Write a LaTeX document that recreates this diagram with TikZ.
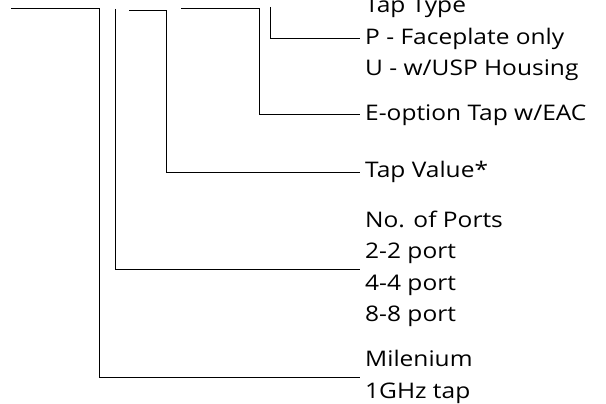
\documentclass[tikz,border=0pt]{standalone}
\usepackage{fontspec}
\setmainfont{Open Sans}[FakeStretch=1.14]
\usetikzlibrary{positioning}
\tikzset{
  key label/.style={
    anchor=west, align=left, inner xsep=5pt, inner ysep=0pt,
    font=\fontsize{21.5}{31.5}\selectfont
  },
  key lead/.style={
    draw=black, line width=1pt
  }
}

\begin{document}
\begin{tikzpicture}[x=1pt, y=-1pt]
  \useasboundingbox (0,0) rectangle (606,404);

  % legend texts
  \node (type)  [key label] at (360,39)  {Tap Type\\P - Faceplate only\\U - w/USP Housing};
  \node (eopt)  [key label] at (360,115) {E-option Tap w/EAC};
  \node (value) [key label] at (360,172) {Tap Value*};
  \node (ports) [key label] at (360,269) {No. of Ports\\2-2 port\\4-4 port\\8-8 port};
  \node (mil)   [key label] at (360,377) {Milenium\\1GHz tap};

  % lead starts and corners
  \coordinate (type start)  at (270,7);
  \coordinate (eopt start)  at (181,9);
  \coordinate (eopt bend)   at (259,9);
  \coordinate (value start) at (129,11);
  \coordinate (value bend)  at (166,11);
  \coordinate (ports start) at (115,9);
  \coordinate (mil start)   at (11,9);
  \coordinate (mil bend)    at (99,9);

  \draw [key lead] (type start) |- (type.west);
  \draw [key lead] (eopt start) -- (eopt bend) |- (eopt.west);
  \draw [key lead] (value start) -- (value bend) |- (value.west);
  \draw [key lead] (ports start) |- (ports.west);
  \draw [key lead] (mil start) -- (mil bend) |- (mil.west);
\end{tikzpicture}
\end{document}
